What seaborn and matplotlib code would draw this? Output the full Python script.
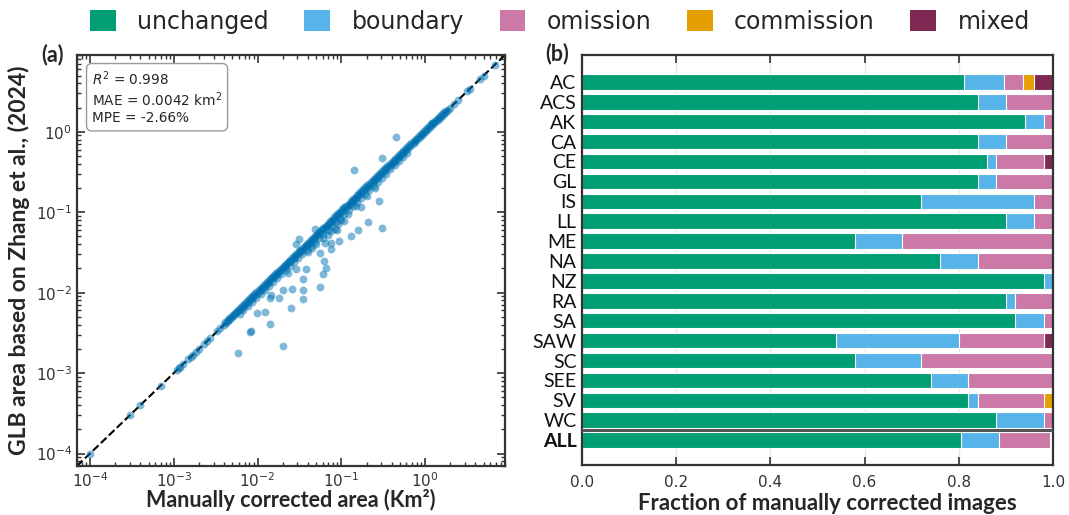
import numpy as np
import pandas as pd
import matplotlib
matplotlib.use("Agg")
import matplotlib.pyplot as plt
import seaborn as sns
from matplotlib.patches import Patch
from matplotlib.ticker import LogLocator, NullFormatter

# ---------------- data: panel (b) ----------------
regions = ["AC", "ACS", "AK", "CA", "CE", "GL", "IS", "LL", "ME", "NA",
           "NZ", "RA", "SA", "SAW", "SC", "SEE", "SV", "WC", "ALL"]
unchanged = [0.81, 0.84, 0.94, 0.84, 0.86, 0.84, 0.72, 0.90, 0.58, 0.76,
             0.98, 0.90, 0.92, 0.54, 0.58, 0.74, 0.82, 0.88, 0.804]
boundary = [0.085, 0.06, 0.04, 0.06, 0.02, 0.04, 0.24, 0.06, 0.10, 0.08,
            0.02, 0.02, 0.06, 0.26, 0.14, 0.08, 0.02, 0.10, 0.082]
omission = [0.042, 0.10, 0.02, 0.10, 0.10, 0.12, 0.04, 0.04, 0.32, 0.16,
            0.0, 0.08, 0.02, 0.18, 0.28, 0.18, 0.14, 0.02, 0.108]
commission = [0.022, 0, 0, 0, 0, 0, 0, 0, 0, 0,
              0, 0, 0, 0, 0, 0, 0.02, 0, 0.002]
mixed = [0.041, 0, 0, 0, 0.02, 0, 0, 0, 0, 0,
         0, 0, 0, 0.02, 0, 0, 0, 0, 0.004]
categories = ["unchanged", "boundary", "omission", "commission", "mixed"]
cat_colors = ["#009E73", "#56B4E9", "#CC79A7", "#E69F00", "#7E2954"]

# ---------------- data: panel (a) ----------------
# glaciers whose area is identical in both datasets (on the 1:1 line)
same_area = [0.0001, 0.0003, 0.0004, 0.0007, 0.0011, 0.00115, 0.0012, 0.0013,
             0.0015, 0.0016, 0.0017, 0.00185, 0.0020, 0.0023, 0.0025, 0.0027,
             0.0033, 0.0036,
             0.0040, 0.0042, 0.0045, 0.0047, 0.0050, 0.0053, 0.0056, 0.0059,
             0.0063, 0.0067, 0.0071, 0.0075, 0.0079, 0.0084, 0.0089, 0.0094,
             0.0100, 0.0106, 0.0112, 0.0119, 0.0126, 0.0133, 0.0141, 0.0150,
             0.0158, 0.0168, 0.0178, 0.0188, 0.020, 0.021, 0.022, 0.024,
             0.025, 0.027, 0.028, 0.030, 0.032, 0.033, 0.035, 0.038, 0.040,
             0.042, 0.045, 0.047, 0.050, 0.053, 0.056, 0.060, 0.063, 0.067,
             0.071, 0.075, 0.079, 0.084, 0.089, 0.094, 0.100, 0.106, 0.112,
             0.119, 0.126, 0.133, 0.141, 0.150, 0.158, 0.168, 0.178, 0.188,
             0.20, 0.21, 0.22, 0.24, 0.25, 0.27, 0.28, 0.30, 0.32, 0.33,
             0.35, 0.38, 0.40, 0.42, 0.45, 0.47, 0.50, 0.53, 0.56, 0.60,
             0.63, 0.67, 0.71, 0.75, 0.79, 0.84, 0.89, 0.94, 1.00, 1.06,
             1.12, 1.19, 1.26, 1.33, 1.41, 1.50, 1.58, 1.68, 1.78, 1.88,
             2.0, 2.2, 2.5, 3.2, 3.4, 4.5, 5.0, 6.8]
# glaciers slightly larger in GLB (just above the 1:1 line)
upper_manual = [0.0041, 0.0044, 0.0046, 0.0049, 0.0052, 0.0055, 0.0058, 0.0061,
                0.0065, 0.0069, 0.0073, 0.0077, 0.0082, 0.0087, 0.0092, 0.0097,
                0.0103, 0.0109, 0.0115, 0.0122, 0.0130, 0.0137, 0.0145, 0.0154,
                0.0163, 0.0173, 0.0183, 0.0194, 0.0205, 0.0218, 0.023, 0.0245,
                0.026, 0.0275, 0.029, 0.031, 0.0325, 0.0345, 0.0365, 0.0387,
                0.041, 0.0435, 0.046, 0.0487, 0.0516, 0.0546, 0.058, 0.0613,
                0.065, 0.0688, 0.073, 0.077, 0.082, 0.087, 0.092, 0.097, 0.103,
                0.109, 0.115, 0.122, 0.130, 0.137, 0.145, 0.154, 0.163, 0.173,
                0.183, 0.194, 0.205, 0.218, 0.23, 0.245, 0.26, 0.275, 0.29,
                0.31, 0.325, 0.345, 0.365, 0.387, 0.41, 0.435, 0.46, 0.487,
                0.516, 0.546, 0.58, 0.613, 0.65, 0.688, 0.73, 0.77, 0.82, 0.87,
                0.92, 0.97, 1.03, 1.09, 1.15, 1.22, 1.30, 1.37, 1.45, 1.54,
                1.63, 1.73]
upper_glb = [0.0043, 0.0046, 0.0048, 0.0051, 0.0055, 0.0058, 0.0061, 0.0064,
             0.0068, 0.0072, 0.0077, 0.0081, 0.0086, 0.0091, 0.0097, 0.0102,
             0.0108, 0.0114, 0.0121, 0.0128, 0.0136, 0.0144, 0.0152, 0.0162,
             0.0171, 0.0182, 0.0192, 0.0204, 0.0215, 0.0229, 0.0242, 0.0257,
             0.0273, 0.0289, 0.0305, 0.0326, 0.0341, 0.0362, 0.0383, 0.0406,
             0.0431, 0.0457, 0.0483, 0.0511, 0.0542, 0.0573, 0.0609, 0.0644,
             0.0683, 0.0722, 0.0767, 0.0809, 0.0861, 0.0914, 0.0966, 0.1019,
             0.1082, 0.1145, 0.1208, 0.1281, 0.1365, 0.1439, 0.1523, 0.1617,
             0.1712, 0.1817, 0.1922, 0.2037, 0.2153, 0.2289, 0.2415, 0.2573,
             0.273, 0.2888, 0.3045, 0.3255, 0.3413, 0.3623, 0.3833, 0.4064,
             0.4305, 0.4568, 0.483, 0.5114, 0.5418, 0.5733, 0.609, 0.6437,
             0.6825, 0.7224, 0.7665, 0.8085, 0.861, 0.9135, 0.966, 1.0185,
             1.0815, 1.1445, 1.2075, 1.281, 1.365, 1.4385, 1.5225, 1.617,
             1.7115, 1.8165]
# glaciers with small differences (just below the 1:1 line)
near_manual = [0.0061, 0.0068, 0.0077, 0.0086, 0.0097, 0.0109, 0.0122, 0.0137,
               0.0154, 0.0172, 0.0193, 0.0217, 0.0243, 0.0273, 0.0306, 0.0344,
               0.0386, 0.0433, 0.0486, 0.0545, 0.0611, 0.0686, 0.077, 0.086,
               0.097, 0.109, 0.122, 0.137, 0.154, 0.172, 0.193, 0.217, 0.243,
               0.273, 0.306, 0.344, 0.386, 0.433, 0.486, 0.545, 0.611]
near_glb = [0.0054, 0.0060, 0.0068, 0.0076, 0.0085, 0.0096, 0.0107, 0.0121,
            0.0136, 0.0151, 0.0170, 0.0191, 0.0214, 0.0240, 0.0269, 0.0303,
            0.0340, 0.0381, 0.0428, 0.0480, 0.0538, 0.0604, 0.0678, 0.0757,
            0.0854, 0.0959, 0.1074, 0.1206, 0.1355, 0.1514, 0.1698, 0.1910,
            0.2138, 0.2402, 0.2693, 0.3027, 0.3397, 0.3810, 0.4277, 0.4796,
            0.5377]
# glaciers with large differences
out_manual = [0.45, 0.31, 0.14, 0.28, 0.17, 0.21, 0.31, 0.16, 0.13, 0.108,
              0.091, 0.085, 0.075, 0.048, 0.031, 0.029, 0.095, 0.076, 0.076,
              0.064, 0.056, 0.062, 0.065, 0.060, 0.035, 0.056, 0.035, 0.035,
              0.0287, 0.0229, 0.0251, 0.0204, 0.0200, 0.0141, 0.0141, 0.0098,
              0.0083, 0.0081, 0.0059, 0.0123, 0.0144, 0.018, 0.026, 0.038,
              0.05, 0.045, 0.06, 0.07, 0.09, 0.10, 0.12, 0.15, 0.20, 0.25,
              0.04, 1.2]
out_glb = [0.87, 0.47, 0.33, 0.136, 0.115, 0.075, 0.064, 0.060, 0.051, 0.078,
           0.071, 0.061, 0.058, 0.062, 0.046, 0.040, 0.044, 0.042, 0.035,
           0.041, 0.031, 0.025, 0.020, 0.017, 0.0149, 0.0116, 0.0109, 0.0084,
           0.0194, 0.0178, 0.0065, 0.0109, 0.0022, 0.0086, 0.0041, 0.0056,
           0.0033, 0.0032, 0.0018, 0.0057, 0.0093, 0.0086, 0.011, 0.0194,
           0.040, 0.036, 0.048, 0.052, 0.060, 0.080, 0.095, 0.12, 0.16, 0.20,
           0.032, 1.27]
stats_text = "$R^2$ = 0.998\nMAE = 0.0042 km$^2$\nMPE = -2.66%"

# ---------------- figure ----------------
sns.set_theme(style="ticks")
plt.rcParams["font.family"] = ["DejaVu Sans"]
fig = plt.figure(figsize=(10.69, 5.15), dpi=100)
axA = fig.add_axes([77 / 1069, 49 / 515, 428 / 1069, 411 / 515])
axB = fig.add_axes([582 / 1069, 50 / 515, 471 / 1069, 410 / 515])

spine_c = "#333333"
pt_color = "#0072B2"

# ----- panel (a)
sc = pd.DataFrame({
    "manual": same_area + upper_manual + near_manual + out_manual,
    "glb": same_area + upper_glb + near_glb + out_glb,
})
lo, hi = 7.0e-5, 9.0
axA.plot([lo, hi], [lo, hi], ls="--", color="black", lw=1.5, zorder=1)
sns.scatterplot(data=sc, x="manual", y="glb", ax=axA, color=pt_color,
                alpha=0.5, s=32, linewidth=0, zorder=2, legend=False)
axA.set_xscale("log")
axA.set_yscale("log")
axA.set_xlim(lo, hi)
axA.set_ylim(lo, hi)
axA.xaxis.set_major_locator(LogLocator(base=10, numticks=12))
axA.yaxis.set_major_locator(LogLocator(base=10, numticks=12))
axA.xaxis.set_minor_locator(LogLocator(base=10, subs=np.arange(2, 10), numticks=12))
axA.yaxis.set_minor_locator(LogLocator(base=10, subs=np.arange(2, 10), numticks=12))
axA.xaxis.set_minor_formatter(NullFormatter())
axA.yaxis.set_minor_formatter(NullFormatter())
axA.tick_params(which="both", direction="in", top=True, right=True,
                colors=spine_c, labelcolor="#333333", labelsize=11)
axA.tick_params(which="major", length=6, width=1.2)
axA.tick_params(which="minor", length=3, width=1.0)
axA.tick_params(axis="x", which="major", pad=4)
for s in axA.spines.values():
    s.set_color(spine_c)
    s.set_linewidth(1.6)
axA.set_xlabel("Manually corrected area (Km²)", fontsize=15.5,
               fontweight="bold", family="Lato")
axA.xaxis.set_label_coords(0.5, (466 - 489) / 411)
axA.set_ylabel("GLB area based on Zhang et al., (2024)", fontsize=16.5,
               fontweight="bold", family="Lato", labelpad=4)
axA.text(0.035, 0.966, stats_text, transform=axA.transAxes, va="top",
         ha="left", fontsize=9.8, linespacing=1.2,
         bbox=dict(boxstyle="round,pad=0.4", fc="white", ec="#999999", lw=1))

# ----- panel (b)
bar = pd.DataFrame({"region": regions, "unchanged": unchanged,
                    "boundary": boundary, "omission": omission,
                    "commission": commission, "mixed": mixed})
cum = bar[categories].cumsum(axis=1)
for cat, col in reversed(list(zip(categories, cat_colors))):
    sns.barplot(data=cum.assign(region=bar["region"]), y="region", x=cat,
                ax=axB, color=col, orient="h", width=0.78,
                edgecolor="white", linewidth=0.8, saturation=1, zorder=2)
axB.set_xlim(0, 1.0)
axB.set_ylim(19.25, -1.35)
axB.set_xticks([0, 0.2, 0.4, 0.6, 0.8, 1.0])
axB.set_xticklabels(["0.0", "0.2", "0.4", "0.6", "0.8", "1.0"])
axB.grid(axis="x", color="#e6e6e6", lw=1, zorder=0)
axB.set_axisbelow(True)
axB.axhline(17.5, color="#555555", lw=2.2, zorder=3)
axB.tick_params(axis="x", direction="in", top=True, labeltop=False,
                length=6, width=1.2, colors=spine_c, labelcolor="#333333",
                labelsize=11, pad=7)
axB.tick_params(axis="y", length=0, labelsize=14, pad=4)
for lab in axB.get_yticklabels():
    lab.set_family("Lato")
    lab.set_color("#111111")
    if lab.get_text() == "ALL":
        lab.set_fontweight("bold")
for s in axB.spines.values():
    s.set_color(spine_c)
    s.set_linewidth(1.6)
axB.set_ylabel("")
axB.set_xlabel("Fraction of manually corrected images", fontsize=16,
               fontweight="bold", family="Lato")
axB.xaxis.set_label_coords(0.52, (465 - 493) / 410)

# panel letters
fig.text(52 / 1069, 1 - 55 / 515, "(a)", fontsize=15.5, fontweight="bold",
         family="Lato", ha="center", va="center")
fig.text(557 / 1069, 1 - 54 / 515, "(b)", fontsize=15.5, fontweight="bold",
         family="Lato", ha="center", va="center")

# legend
handles = [Patch(facecolor=c, edgecolor="none", label=l)
           for l, c in zip(categories, cat_colors)]
fig.legend(handles=handles, loc="center", bbox_to_anchor=(560 / 1069, 1 - 22 / 515),
           ncol=5, frameon=False, fontsize=17, handlelength=1.1,
           handleheight=1.0, handletextpad=0.9, columnspacing=1.5)

fig.savefig("out.png", dpi=100)
